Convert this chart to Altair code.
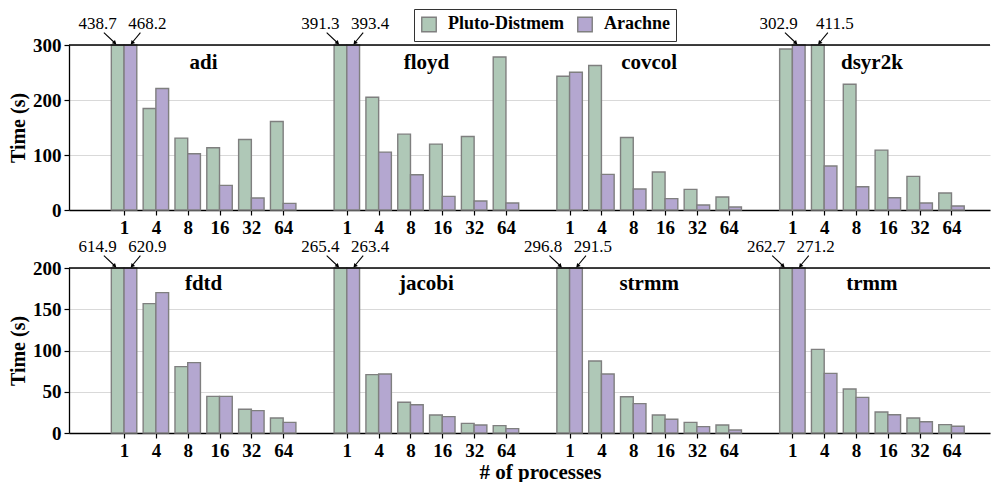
import altair as alt
import pandas as pd

PROCS = ["1", "4", "8", "16", "32", "64"]
SERIES = ["Pluto-Distmem", "Arachne"]
COLORS = ["#afc8b7", "#b4a7d0"]

TOP_BENCH = ["adi", "floyd", "covcol", "dsyr2k"]
TOP_PLUTO = [
    [438.7, 184.5, 130.7, 113.1, 128.3, 160.9],
    [391.3, 205.0, 137.9, 119.8, 133.7, 278.3],
    [243.2, 262.6, 131.9, 69.0, 37.5, 23.6],
    [292.8, 411.5, 228.7, 108.9, 61.1, 30.9],
]
TOP_ARACHNE = [
    [468.2, 220.8, 102.2, 44.8, 21.8, 12.1],
    [393.4, 105.3, 64.1, 24.8, 16.3, 12.7],
    [250.5, 64.7, 38.1, 20.6, 9.1, 5.4],
    [302.9, 79.9, 42.3, 22.4, 12.7, 7.3],
]
BOT_BENCH = ["fdtd", "jacobi", "strmm", "trmm"]
BOT_PLUTO = [
    [614.9, 156.8, 80.4, 44.4, 28.7, 18.2],
    [265.4, 70.7, 37.2, 21.8, 11.7, 8.9],
    [296.8, 87.3, 44.0, 21.8, 12.9, 9.7],
    [262.7, 101.4, 53.3, 25.5, 18.2, 10.1],
]
BOT_ARACHNE = [
    [620.9, 170.1, 85.3, 44.4, 27.1, 12.9],
    [263.4, 71.5, 34.3, 19.8, 9.7, 5.3],
    [291.5, 71.5, 35.6, 16.6, 7.7, 3.6],
    [271.2, 72.3, 43.2, 22.2, 13.7, 8.1],
]

SLOTS = 7          # 6 process counts + 1 empty slot between benchmarks
SERIF = "Liberation Serif"
PLOT_W = 921
PLOT_H = 165
XDOM = [-1.73, 27.21]


def frame(benches, pluto, arachne):
    rows = []
    for g, b in enumerate(benches):
        for i, p in enumerate(PROCS):
            rows.append({"bench": b, "g": g, "i": i, "procs": p, "series": SERIES[0], "s": 0, "time": pluto[g][i]})
            rows.append({"bench": b, "g": g, "i": i, "procs": p, "series": SERIES[1], "s": 1, "time": arachne[g][i]})
    return pd.DataFrame(rows)


def make_row(benches, pluto, arachne, ymax, yvals, legend, xtitle, title_dy):
    df = frame(benches, pluto, arachne)
    xscale = alt.Scale(domain=XDOM, nice=False, zero=False)
    yscale = alt.Scale(domain=[0, ymax], nice=False, clamp=True)
    tick_vals = [g * SLOTS + i for g in range(len(benches)) for i in range(len(PROCS))]
    label_expr = "[" + ",".join("'%s'" % p for p in PROCS) + ",''][round(datum.value) %% %d]" % SLOTS

    base = alt.Chart(df).transform_calculate(
        x0="datum.g * %d + datum.i - 0.4 + 0.4 * datum.s" % SLOTS,
        x1="datum.g * %d + datum.i + 0.4 * datum.s" % SLOTS,
        xc="datum.g * %d + datum.i - 0.2 + 0.4 * datum.s" % SLOTS,
    )

    bars = base.mark_rect(stroke="#7f7f7f", strokeWidth=1.4).encode(
        x=alt.X("x0:Q", scale=xscale, title=xtitle,
                axis=alt.Axis(values=tick_vals, labelExpr=label_expr, grid=False,
                              labelOverlap=False, labelFlush=False,
                              titleX=471, titlePadding=1)),
        x2="x1:Q",
        y=alt.Y("time:Q", scale=yscale, title="Time (s)",
                axis=alt.Axis(values=yvals, grid=True, labelOverlap=False,
                              labelFlush=False)),
        y2=alt.datum(0),
        color=alt.Color("series:N", scale=alt.Scale(domain=SERIES, range=COLORS),
                        legend=legend),
    )

    top_line = alt.Chart(pd.DataFrame({"top": [ymax]})).mark_rule(
        color="black", strokeWidth=1.3
    ).encode(y=alt.Y("top:Q", scale=yscale, title="Time (s)"))

    titles = alt.Chart(pd.DataFrame({"bench": benches, "g": list(range(len(benches)))})).transform_calculate(
        tx="datum.g * %d + 2.5" % SLOTS, ty=str(ymax)
    ).mark_text(font=SERIF, fontSize=21, fontWeight="bold", baseline="top", dy=title_dy,
                color="black").encode(
        x=alt.X("tx:Q", scale=xscale, title=xtitle),
        y=alt.Y("ty:Q", scale=yscale, title="Time (s)"),
        text="bench:N",
    )

    over = base.transform_filter("datum.time > %f" % ymax).transform_window(
        rank="rank()", groupby=["g"], sort=[alt.SortField("xc", order="ascending")]
    ).transform_calculate(label="format(datum.time, '.1f')")
    left = over.transform_filter("datum.rank == 1")
    right = over.transform_filter("datum.rank == 2")

    def enc(ch):
        return ch.encode(
            x=alt.X("xc:Q", scale=xscale, title=xtitle),
            y=alt.Y("time:Q", scale=yscale, title="Time (s)"),
        )

    def arrow(src, dx_text, tail_dx, head_dx, angle, head_off):
        txt = enc(src.mark_text(font=SERIF, fontSize=17, dx=dx_text, dy=-21,
                                baseline="middle", color="black")).encode(text="label:N")
        shaft = src.mark_rule(color="black", strokeWidth=1.1, xOffset=tail_dx, yOffset=-12.3,
                              x2Offset=head_dx, y2Offset=-2.0).encode(
            x=alt.X("xc:Q", scale=xscale, title=xtitle), x2="xc:Q",
            y=alt.Y("time:Q", scale=yscale, title="Time (s)"), y2="time:Q")
        head = enc(src.mark_point(shape="triangle-up", filled=True, color="black", opacity=1,
                                  size=22, angle=angle, xOffset=head_off[0], yOffset=head_off[1]))
        return [txt, shaft, head]

    layers = [bars, top_line, titles]
    layers += arrow(left, -20, -13.8, -2.8, 133, (-2.8, -2.0))
    layers += arrow(right, 17, 10.0, 1.4, 221, (1.6, -2.0))
    return alt.layer(*layers).properties(width=PLOT_W, height=PLOT_H)


legend = alt.Legend(
    title=None, orient="none", legendX=345, legendY=-36, direction="horizontal",
    symbolType="square", symbolSize=210, symbolStrokeColor="#7f7f7f", symbolStrokeWidth=1.4,
    labelFont=SERIF, labelFontSize=18, labelFontWeight="bold", labelColor="black",
    labelOffset=10, columnPadding=10, padding=6, strokeColor="#333333", fillColor="white",
)

top = make_row(TOP_BENCH, TOP_PLUTO, TOP_ARACHNE, 300, [0, 100, 200, 300], legend, None, 7)
bottom = make_row(BOT_BENCH, BOT_PLUTO, BOT_ARACHNE, 200, [0, 50, 100, 150, 200], None,
                  "# of processes", 5)

chart = alt.vconcat(top, bottom, spacing=1).resolve_legend(color="independent").properties(
    padding=0
).configure_view(stroke=None).configure_axis(
    labelFont=SERIF, labelFontSize=19, labelFontWeight="bold", labelColor="black",
    titleFont=SERIF, titleFontSize=21, titleFontWeight="bold", titleColor="black",
    domainColor="black", domainWidth=1.3, tickColor="black", tickSize=5, tickWidth=1.2,
    gridColor="#d9d9d9", gridWidth=1, labelPadding=3,
).configure_axisY(titlePadding=4, titleFontSize=20)

chart.save("out.html", embed_options={"renderer": "svg", "actions": False})
